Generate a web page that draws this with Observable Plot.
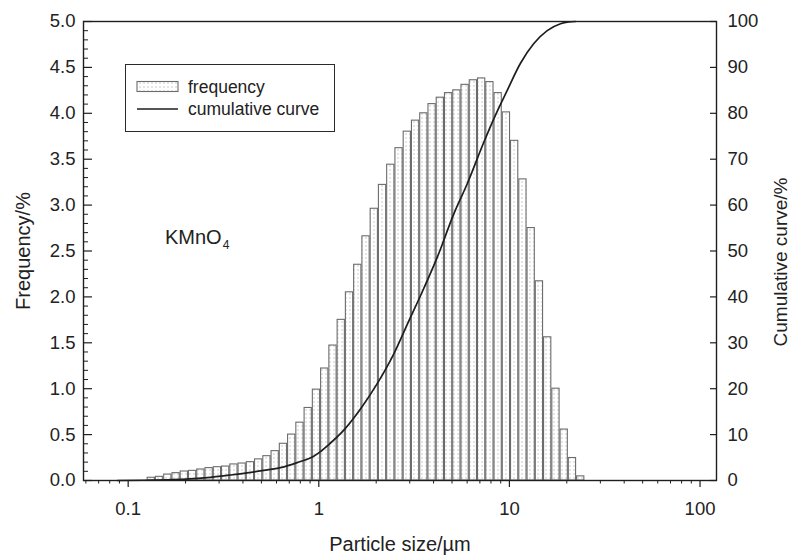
<!DOCTYPE html>
<html><head><meta charset="utf-8">
<script src="https://cdn.jsdelivr.net/npm/d3@7"></script>
<script src="https://cdn.jsdelivr.net/npm/@observablehq/plot@0.6"></script>
<style>
body{margin:0;background:#fff;}
#wrap{position:relative;width:793px;height:555px;overflow:hidden;font-family:"Liberation Sans",Arial,sans-serif;color:#222;}
#legend{position:absolute;left:125px;top:64px;width:208px;height:66px;border:1.5px solid #2a2a2a;background:#fff;}
#legend svg{position:absolute;left:0;top:0;}
#kmno{position:absolute;left:165px;top:226px;font-size:20px;color:#222;}
#kmno sub{font-size:12px;vertical-align:-5px;margin-left:1px;}
#rlabel{position:absolute;left:781px;top:262px;font-size:19px;line-height:20px;color:#222;white-space:nowrap;transform:translate(-50%,-50%) rotate(-90deg);}
</style></head><body><div id="wrap"></div>
<script>
// size-class bin edges (µm)
const binEdges = [0.1258,0.1390,0.1536,0.1697,0.1875,0.2072,0.2289,0.2529,0.2795,0.3088,
 0.3412,0.3770,0.4165,0.4602,0.5085,0.5618,0.6208,0.6859,0.7578,0.8373,
 0.9251,1.0222,1.1294,1.2479,1.3788,1.5234,1.6832,1.8597,2.0548,2.2703,
 2.5084,2.7715,3.0622,3.3834,3.7383,4.1304,4.5636,5.0422,5.5711,6.1555,
 6.8011,7.5145,8.3027,9.1735,10.136,11.199,12.374,13.671,15.105,16.690,
 18.440,20.374,22.511,24.872];
// frequency (%) of each class
const frequency = [0.03,0.04,0.065,0.08,0.098,0.105,0.12,0.135,0.145,0.152,
 0.175,0.185,0.20,0.23,0.265,0.32,0.40,0.50,0.63,0.79,
 0.99,1.22,1.47,1.75,2.05,2.35,2.66,2.96,3.22,3.44,
 3.62,3.80,3.92,4.00,4.10,4.17,4.22,4.25,4.31,4.36,
 4.38,4.34,4.22,4.01,3.70,3.28,2.75,2.17,1.56,1.00,
 0.555,0.245,0.045];
// cumulative curve (%)
const curveSize = [0.088,0.12,0.16,0.20,0.27,0.345,0.42,0.514,0.63,0.77,0.94,1.02,1.14,1.30,1.655,2.025,2.475,3.03,3.42,4.18,5.11,6.0,7.34,8.28,9.74,11.43,13.43,15.79,18.54,20.5,22.2];
const curvePct  = [0,0.05,0.15,0.3,0.7,1.2,1.65,2.2,2.8,3.9,5.3,6.3,8.0,10.2,15.6,21.1,27.6,35.6,40.3,48.6,58.1,64.6,73.7,78.8,85,90.9,95.2,98,99.5,99.9,100];

const freqTicks = [0,0.5,1.0,1.5,2.0,2.5,3.0,3.5,4.0,4.5,5.0];
const freqTickLabels = ["0.0","0.5","1.0","1.5","2.0","2.5","3.0","3.5","4.0","4.5","5.0"];
const cumTicks = [0,10,20,30,40,50,60,70,80,90,100];
const sizeTicks = [0.1,1,10,100];
const sizeTickLabels = ["0.1","1","10","100"];
const sizeMinor = [0.06,0.07,0.08,0.09,0.2,0.3,0.4,0.5,0.6,0.7,0.8,0.9,2,3,4,5,6,7,8,9,20,30,40,50,60,70,80,90];
const freqMinor = d3.range(1,50).map(k=>k/10).filter(v=>Math.abs(v*2-Math.round(v*2))>1e-6);

const bars = frequency.map((f,i)=>({lo:binEdges[i],hi:binEdges[i+1],f}));
const curve = curveSize.map((s,i)=>({s,c:curvePct[i]}));

const W=793,H=555,mL=83,mR=77,mT=21,mB=75,fw=W-mL-mR;
const ink="#1e1e1e";
const chart = Plot.plot({
  width:W,height:H,marginLeft:mL,marginRight:mR,marginTop:mT,marginBottom:mB,
  x:{type:"log",domain:[0.0583,122]},
  y:{domain:[0,5]},
  style:{fontSize:"18.5px",fontFamily:"'Liberation Sans',Arial,sans-serif",background:"#fff",color:"#222",overflow:"visible"},
  marks:[
    Plot.rectY(bars,{x1:"lo",x2:"hi",y:"f",fill:"url(#dots)",stroke:"#6c6c6c",strokeWidth:1.1,insetLeft:0.5,insetRight:0.5}),
    Plot.line(curve,{x:"s",y:d=>d.c/20,curve:"monotone-x",stroke:ink,strokeWidth:1.7}),
    Plot.frame({stroke:ink,strokeWidth:1.4}),
    Plot.tickY(freqTicks,{y:d=>d,insetRight:fw-9,stroke:ink,strokeWidth:1.2}),
    Plot.tickY(freqMinor,{y:d=>d,insetRight:fw-5,stroke:ink,strokeWidth:1}),
    Plot.tickY(cumTicks,{y:d=>d/20,insetLeft:fw-6,stroke:ink,strokeWidth:1.2}),
    Plot.axisY(freqTicks,{anchor:"left",tickSize:0,tickPadding:8,tickFormat:d=>freqTickLabels[freqTicks.indexOf(d)],label:null}),
    Plot.axisY(freqTicks,{anchor:"left",tickSize:0,tickFormat:()=>"",label:"Frequency/%",labelAnchor:"center",labelOffset:68,labelArrow:"none",fontSize:20}),
    Plot.axisY(cumTicks.map(d=>d/20),{anchor:"right",tickSize:0,tickPadding:11,tickFormat:d=>String(Math.round(d*20)),label:null}),
    Plot.axisX(sizeTicks,{anchor:"bottom",tickSize:7,tickPadding:14,stroke:ink,strokeWidth:1.2,tickFormat:d=>sizeTickLabels[sizeTicks.indexOf(d)],label:null}),
    Plot.axisX(sizeTicks,{anchor:"bottom",tickSize:0,tickFormat:()=>"",label:"Particle size/µm",labelAnchor:"center",labelOffset:70,labelArrow:"none",fontSize:20}),
    Plot.axisX(sizeMinor,{anchor:"bottom",tickSize:3.5,stroke:ink,strokeWidth:1,tickFormat:()=>"",label:null})
  ]
});
// dotted fill pattern
const ns="http://www.w3.org/2000/svg";
const defs=document.createElementNS(ns,"defs");
defs.innerHTML='<pattern id="dots" width="4" height="4" patternUnits="userSpaceOnUse"><rect width="4" height="4" fill="#fff"/><rect x="1.5" y="1.5" width="1" height="1" fill="#9a9a9a"/></pattern>';
chart.insertBefore(defs,chart.firstChild);
const wrap=document.getElementById("wrap");
wrap.appendChild(chart);

// legend
const lg=document.createElement("div");lg.id="legend";
lg.innerHTML='<svg width="208" height="66"><defs><pattern id="dots2" width="4" height="4" patternUnits="userSpaceOnUse"><rect width="4" height="4" fill="#fff"/><rect x="1.5" y="1.5" width="1" height="1" fill="#9a9a9a"/></pattern></defs>'+
 '<rect x="11" y="16.5" width="41" height="10" fill="url(#dots2)" stroke="#6c6c6c" stroke-width="1.1"/>'+
 '<line x1="11" x2="52" y1="44" y2="44" stroke="'+ink+'" stroke-width="1.7"/>'+
 '<text x="62" y="28" font-size="17.5" fill="#222" font-family="Liberation Sans, Arial, sans-serif">frequency</text>'+
 '<text x="62" y="49.5" font-size="17.5" fill="#222" font-family="Liberation Sans, Arial, sans-serif">cumulative curve</text></svg>';
wrap.appendChild(lg);
const km=document.createElement("div");km.id="kmno";km.innerHTML="KMnO<sub>4</sub>";
wrap.appendChild(km);
const rl=document.createElement("div");rl.id="rlabel";rl.textContent="Cumulative curve/%";
wrap.appendChild(rl);
</script></body></html>
